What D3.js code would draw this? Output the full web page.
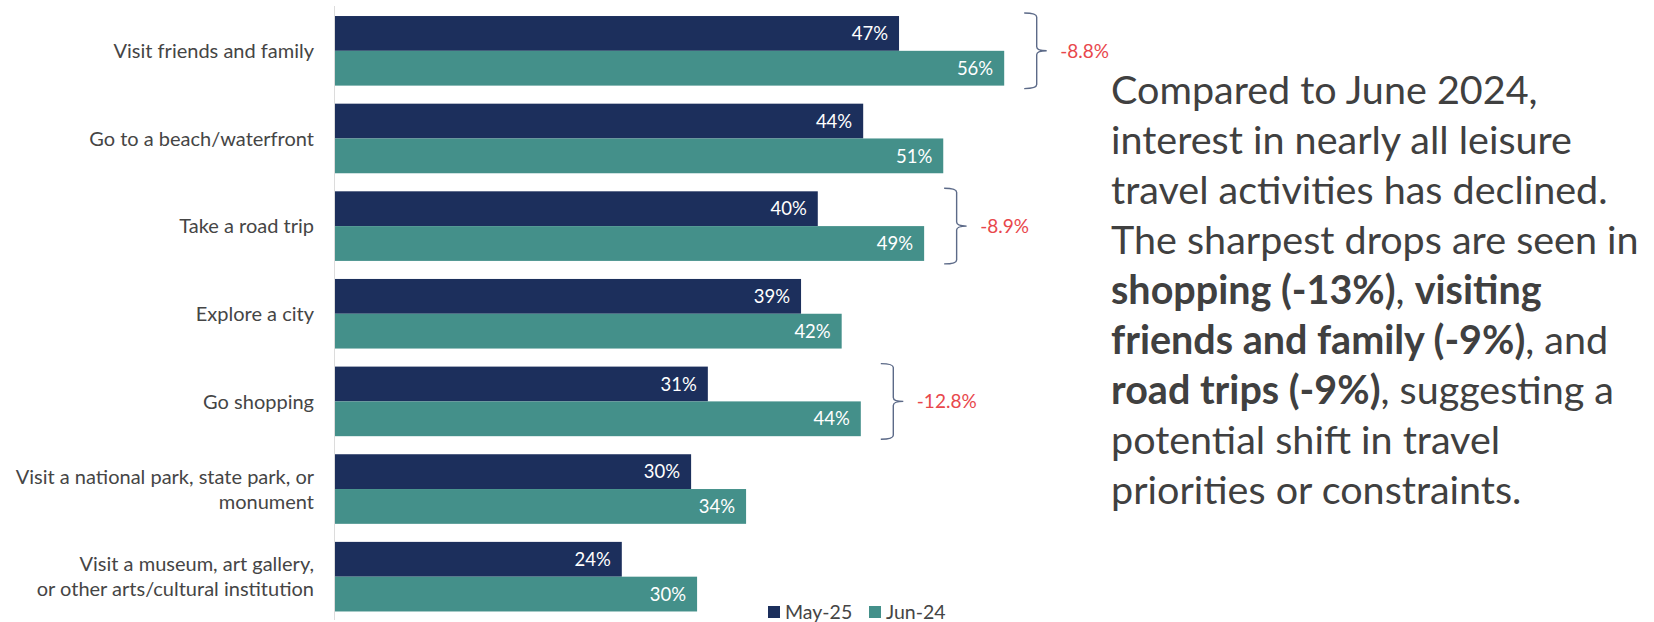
<!DOCTYPE html>
<html>
<head>
<meta charset="utf-8">
<script src="https://cdn.jsdelivr.net/npm/d3@7"></script>
<style>
  html, body { margin: 0; padding: 0; background: #fff; }
  svg { display: block; font-family: Lato, "Open Sans", sans-serif; }
</style>
</head>
<body>
<div id="chart"></div>
<script>
// data
const categories = [
    ["Visit friends and family"],
    ["Go to a beach/waterfront"],
    ["Take a road trip"],
    ["Explore a city"],
    ["Go shopping"],
    ["Visit a national park, state park, or", "monument"],
    ["Visit a museum, art gallery,", "or other arts/cultural institution"]
];
const series = ["May-25", "Jun-24"];
const may25 = [47.2, 44.2, 40.4, 39.0, 31.2, 29.8, 24.0];
const jun24 = [56.0, 50.9, 49.3, 42.4, 44.0, 34.4, 30.3];
const calloutRows = [0, 2, 4];   // rows that get a bracket with the change

const noteLines = [
    [["Compared to June 2024,", false]],
    [["interest in nearly all leisure", false]],
    [["travel activities has declined.", false]],
    [["The sharpest drops are seen in", false]],
    [["shopping (-13%)", true], [", ", false], ["visiting", true]],
    [["friends and family (-9%)", true], [", and", false]],
    [["road trips (-9%)", true], [", suggesting a", false]],
    [["potential shift in travel", false]],
    [["priorities or constraints.", false]]
];

const colors = { "May-25": "#1c2f5c", "Jun-24": "#44908a" };

var w = 1654, h = 622;
var axisX = 335;

var svg = d3.select("#chart")
    .append("svg")
    .attr("width", w)
    .attr("height", h);

var rows = categories.map((c, i) => ({ i: i, lines: c, "May-25": may25[i], "Jun-24": jun24[i] }));

var y = d3.scaleBand()
    .domain(d3.range(categories.length))
    .range([7, 620.5])
    .paddingInner(0.206)
    .paddingOuter(0.103);

var ySub = d3.scaleBand()
    .domain(series)
    .range([0, y.bandwidth()])
    .padding(0);

var x = d3.scaleLinear()
    .domain([0, 60])
    .range([axisX, axisX + 60 * 11.95]);

// vertical axis line
svg.append("line")
    .attr("x1", axisX - 0.5).attr("x2", axisX - 0.5)
    .attr("y1", 6).attr("y2", 620)
    .attr("stroke", "#dcdcdc")
    .attr("stroke-width", 1);

// bars
var group = svg.append("g")
    .selectAll(".row")
    .data(rows)
    .enter()
    .append("g")
    .attr("class", "row")
    .attr("transform", d => `translate(0,${y(d.i)})`);

group.selectAll("rect")
    .data(d => series.map(s => ({ key: s, value: d[s] })))
    .enter()
    .append("rect")
    .attr("x", axisX)
    .attr("y", d => ySub(d.key))
    .attr("width", d => x(d.value) - axisX)
    .attr("height", ySub.bandwidth())
    .attr("fill", d => colors[d.key]);

// value labels inside the bar ends
group.selectAll(".val")
    .data(d => series.map(s => ({ key: s, value: d[s] })))
    .enter()
    .append("text")
    .attr("class", "val")
    .attr("x", d => x(d.value) - 11)
    .attr("y", d => ySub(d.key) + ySub.bandwidth() / 2)
    .attr("dy", "0.36em")
    .attr("text-anchor", "end")
    .attr("fill", "#ffffff")
    .style("font-size", "18.5px")
    .text(d => Math.round(d.value) + "%");

// category labels
group.append("text")
    .attr("text-anchor", "end")
    .attr("fill", "#454545")
    .style("font-size", "20px")
    .each(function (d) {
        var t = d3.select(this);
        var n = d.lines.length;
        d.lines.forEach((line, k) => {
            t.append("tspan")
                .attr("x", axisX - 21)
                .attr("y", y.bandwidth() / 2 + (k - (n - 1) / 2) * 25)
                .attr("dy", "0.36em")
                .text(line);
        });
    });

// brackets with the change between the two waves
var callouts = svg.append("g")
    .selectAll(".callout")
    .data(calloutRows.map(i => rows[i]))
    .enter()
    .append("g")
    .attr("class", "callout");

callouts.append("path")
    .attr("fill", "none")
    .attr("stroke", "#5c6a88")
    .attr("stroke-width", 1.4)
    .attr("d", d => {
        var x0 = x(Math.max(d["May-25"], d["Jun-24"])) + 20;
        var xv = x0 + 12.5;
        var y0 = y(d.i) - 3, y1 = y(d.i) + y.bandwidth() + 3;
        var ym = (y0 + y1) / 2;
        var r = 4;
        return `M${x0},${y0} Q${xv},${y0} ${xv},${y0 + r} L${xv},${ym - r} Q${xv},${ym} ${xv + 10},${ym}` +
            ` Q${xv},${ym} ${xv},${ym + r} L${xv},${y1 - r} Q${xv},${y1} ${x0},${y1}`;
    });

callouts.append("text")
    .attr("x", d => x(Math.max(d["May-25"], d["Jun-24"])) + 56)
    .attr("y", d => y(d.i) + y.bandwidth() / 2)
    .attr("dy", "0.36em")
    .attr("fill", "#e8474c")
    .style("font-size", "19px")
    .text(d => (d["May-25"] - d["Jun-24"]).toFixed(1) + "%");

// legend
var legend = svg.append("g")
    .attr("transform", "translate(768,612)")
    .selectAll("g")
    .data(series)
    .enter()
    .append("g")
    .attr("transform", (d, i) => `translate(${i * 101},0)`);

legend.append("rect")
    .attr("x", 0).attr("y", -6)
    .attr("width", 12).attr("height", 12)
    .attr("fill", d => colors[d]);

legend.append("text")
    .attr("x", 17)
    .attr("dy", "0.36em")
    .attr("fill", "#454545")
    .style("font-size", "19.5px")
    .text(d => d);

// commentary on the right
var note = svg.append("text")
    .attr("fill", "#404040")
    .style("font-size", "39.5px");

noteLines.forEach((segs, k) => {
    var line = note.append("tspan")
        .attr("x", 1111)
        .attr("y", 90 + k * 50)
        .attr("dy", "0.36em");
    segs.forEach(([txt, bold]) => {
        line.append("tspan")
            .attr("font-weight", bold ? 700 : 400)
            .text(txt);
    });
});
</script>
</body>
</html>
